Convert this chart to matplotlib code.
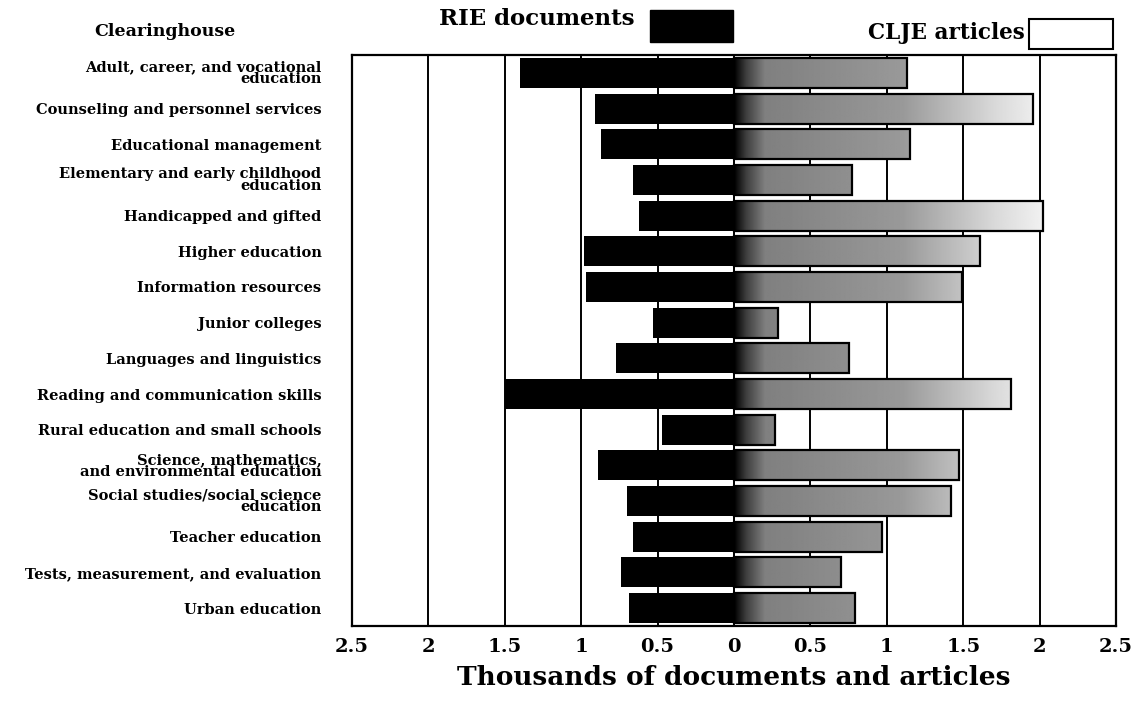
import numpy as np
import matplotlib.pyplot as plt
from matplotlib.patches import Rectangle

# clearinghouse names, top to bottom
clearinghouses = [
    "Adult, career, and vocational\neducation",
    "Counseling and personnel services",
    "Educational management",
    "Elementary and early childhood\neducation",
    "Handicapped and gifted",
    "Higher education",
    "Information resources",
    "Junior colleges",
    "Languages and linguistics",
    "Reading and communication skills",
    "Rural education and small schools",
    "Science, mathematics,\nand environmental education",
    "Social studies/social science\neducation",
    "Teacher education",
    "Tests, measurement, and evaluation",
    "Urban education",
]

# thousands
rie_docs = [1.40, 0.91, 0.87, 0.66, 0.62, 0.98, 0.97, 0.53,
            0.77, 1.50, 0.47, 0.89, 0.70, 0.66, 0.74, 0.69]
cije_articles = [1.13, 1.96, 1.15, 0.77, 2.02, 1.61, 1.49, 0.29,
                 0.75, 1.81, 0.27, 1.47, 1.42, 0.97, 0.70, 0.79]

x_ticks = [-2.5, -2, -1.5, -1, -0.5, 0, 0.5, 1, 1.5, 2, 2.5]
x_tick_labels = ["2.5", "2", "1.5", "1", "0.5", "0", "0.5", "1", "1.5", "2", "2.5"]

plt.rcParams['font.family'] = 'DejaVu Serif'
plt.rcParams['font.weight'] = 'bold'
plt.rcParams['axes.labelweight'] = 'bold'

fig = plt.figure(figsize=(11.36, 7.07), dpi=100)
W, H = 1136, 707
ax = fig.add_axes([352 / W, 1 - 626 / H, (1116 - 352) / W, (626 - 55) / H])

y = np.arange(len(clearinghouses))

# vertical grid lines
for xv in x_ticks:
    ax.axvline(xv, color='black', lw=1.4, zorder=1)

# RIE documents go left
ax.barh(y, -np.array(rie_docs), height=0.84, color='black', zorder=2)

# CLJE articles go right, with a fading halftone look
cije_bars = ax.barh(y, cije_articles, height=0.84, facecolor='none',
                    edgecolor='black', lw=1.6, zorder=3)
xs = np.linspace(0, 2.5, 500)
shade = np.interp(xs, [0, 0.08, 0.2, 1.1, 1.7, 2.2],
                  [0.0, 0.25, 0.5, 0.6, 0.85, 1.0])
for bar in cije_bars:
    im = ax.imshow(shade[np.newaxis, :], cmap='gray', vmin=0, vmax=1,
                   aspect='auto', interpolation='bilinear', zorder=2.5,
                   extent=[0, 2.5, bar.get_y() + bar.get_height(), bar.get_y()])
    im.set_clip_path(bar)

ax.set_xlim(-2.5, 2.5)
ax.set_ylim(15.5, -0.5)
ax.set_xticks(x_ticks, x_tick_labels, fontsize=14)
ax.set_yticks(y, clearinghouses, fontsize=10.5, linespacing=0.8)
ax.tick_params(axis='both', length=0)
ax.tick_params(axis='y', pad=22)
ax.tick_params(axis='x', pad=9)
for s in ax.spines.values():
    s.set_linewidth(1.6)

ax.set_xlabel("Thousands of documents and articles", fontsize=19, labelpad=6)

# header and legend
fig.text(165 / W, 1 - 32 / H, "Clearinghouse", ha='center', va='center', fontsize=12.5)
fig.text(537 / W, 1 - 19 / H, "RIE documents", ha='center', va='center', fontsize=16.5)
fig.add_artist(Rectangle((650 / W, 1 - 42 / H), 83 / W, 32 / H,
                         transform=fig.transFigure, facecolor='black', edgecolor='black'))
fig.text(1025 / W, 1 - 33 / H, "CLJE articles", ha='right', va='center', fontsize=15.5)
fig.add_artist(Rectangle((1029 / W, 1 - 49 / H), 84 / W, 30 / H,
                         transform=fig.transFigure, facecolor='white', edgecolor='black', lw=1.5))

fig.savefig("out.png", dpi=100)
